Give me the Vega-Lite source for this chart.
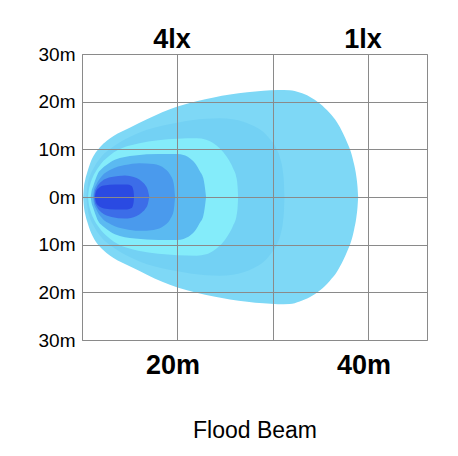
{
  "$schema": "https://vega.github.io/schema/vega-lite/v6.json",
  "width": 345,
  "height": 286,
  "autosize": "none",
  "padding": {"left": 82, "top": 54, "right": 31, "bottom": 116},
  "background": "white",
  "config": {
    "font": "Liberation Sans",
    "view": {"stroke": "#8a8a8a", "strokeWidth": 1}
  },
  "datasets": {
    "A": [
      {"x": 10.12, "hi": 0, "lo": 0},
      {"x": 10.2, "hi": 2.0, "lo": -2.0},
      {"x": 10.34, "hi": 3.6, "lo": -3.6},
      {"x": 10.55, "hi": 5.2, "lo": -5.2},
      {"x": 10.86, "hi": 7.1, "lo": -7.1},
      {"x": 11.3, "hi": 8.9, "lo": -8.9},
      {"x": 11.9, "hi": 10.5, "lo": -10.5},
      {"x": 12.6, "hi": 11.8, "lo": -11.8},
      {"x": 13.3, "hi": 12.8, "lo": -12.8},
      {"x": 15.05, "hi": 14.6, "lo": -14.6},
      {"x": 16.8, "hi": 16.3, "lo": -16.3},
      {"x": 18.4, "hi": 17.8, "lo": -17.8},
      {"x": 20.0, "hi": 19.0, "lo": -19.0},
      {"x": 22.0, "hi": 20.1, "lo": -20.1},
      {"x": 23.8, "hi": 20.9, "lo": -20.9},
      {"x": 25.5, "hi": 21.5, "lo": -21.5},
      {"x": 27.3, "hi": 21.95, "lo": -21.95},
      {"x": 29.0, "hi": 22.3, "lo": -22.3},
      {"x": 30.5, "hi": 22.45, "lo": -22.5},
      {"x": 31.75, "hi": 22.4, "lo": -22.45},
      {"x": 32.8, "hi": 21.9, "lo": -21.9},
      {"x": 33.84, "hi": 21.05, "lo": -21.05},
      {"x": 34.9, "hi": 19.6, "lo": -19.6},
      {"x": 35.94, "hi": 17.6, "lo": -17.6},
      {"x": 36.7, "hi": 15.7, "lo": -15.7},
      {"x": 37.33, "hi": 13.4, "lo": -13.4},
      {"x": 37.8, "hi": 11.3, "lo": -11.3},
      {"x": 38.2, "hi": 9.2, "lo": -9.2},
      {"x": 38.5, "hi": 6.8, "lo": -6.8},
      {"x": 38.73, "hi": 4.3, "lo": -4.3},
      {"x": 38.85, "hi": 2.2, "lo": -2.2},
      {"x": 38.92, "hi": 0, "lo": 0}
    ],
    "B": [
      {"x": 10.45, "hi": 0, "lo": 0},
      {"x": 10.6, "hi": 2.5, "lo": -2.5},
      {"x": 10.85, "hi": 4.5, "lo": -4.5},
      {"x": 11.2, "hi": 6.0, "lo": -6.0},
      {"x": 12.0, "hi": 8.4, "lo": -8.4},
      {"x": 13.3, "hi": 10.6, "lo": -10.6},
      {"x": 15.0, "hi": 12.6, "lo": -12.6},
      {"x": 16.8, "hi": 14.1, "lo": -14.1},
      {"x": 18.5, "hi": 15.0, "lo": -15.0},
      {"x": 20.0, "hi": 15.6, "lo": -15.6},
      {"x": 21.5, "hi": 16.1, "lo": -16.1},
      {"x": 23.0, "hi": 16.4, "lo": -16.4},
      {"x": 24.4, "hi": 16.5, "lo": -16.5},
      {"x": 25.8, "hi": 16.3, "lo": -16.3},
      {"x": 26.9, "hi": 15.8, "lo": -15.8},
      {"x": 28.0, "hi": 14.9, "lo": -14.9},
      {"x": 28.96, "hi": 13.7, "lo": -13.7},
      {"x": 29.7, "hi": 12.1, "lo": -12.1},
      {"x": 30.35, "hi": 10.2, "lo": -10.2},
      {"x": 30.8, "hi": 7.8, "lo": -7.8},
      {"x": 31.04, "hi": 5.3, "lo": -5.3},
      {"x": 31.15, "hi": 2.8, "lo": -2.8},
      {"x": 31.2, "hi": 0, "lo": 0}
    ],
    "C": [
      {"x": 10.63, "hi": 0, "lo": 0},
      {"x": 10.72, "hi": 1.5, "lo": -1.5},
      {"x": 10.85, "hi": 2.6, "lo": -2.6},
      {"x": 11.16, "hi": 4.3, "lo": -4.3},
      {"x": 11.6, "hi": 5.9, "lo": -5.9},
      {"x": 12.04, "hi": 7.1, "lo": -7.1},
      {"x": 12.9, "hi": 8.7, "lo": -8.7},
      {"x": 13.79, "hi": 9.9, "lo": -9.9},
      {"x": 14.8, "hi": 10.7, "lo": -10.7},
      {"x": 15.9, "hi": 11.25, "lo": -11.25},
      {"x": 18.0, "hi": 11.9, "lo": -11.9},
      {"x": 20.0, "hi": 12.2, "lo": -12.2},
      {"x": 22.0, "hi": 12.3, "lo": -12.3},
      {"x": 23.0, "hi": 12.0, "lo": -12.0},
      {"x": 23.8, "hi": 11.2, "lo": -11.2},
      {"x": 24.44, "hi": 10.2, "lo": -10.2},
      {"x": 25.14, "hi": 8.5, "lo": -8.5},
      {"x": 25.83, "hi": 6.0, "lo": -6.0},
      {"x": 26.18, "hi": 4.0, "lo": -4.0},
      {"x": 26.3, "hi": 2.0, "lo": -2.0},
      {"x": 26.35, "hi": 0, "lo": 0}
    ],
    "D": [
      {"x": 10.91, "hi": 0, "lo": 0},
      {"x": 11.0, "hi": 1.2, "lo": -1.2},
      {"x": 11.16, "hi": 2.2, "lo": -2.2},
      {"x": 11.4, "hi": 3.6, "lo": -3.6},
      {"x": 11.68, "hi": 5.0, "lo": -5.0},
      {"x": 12.1, "hi": 6.0, "lo": -6.0},
      {"x": 12.56, "hi": 6.7, "lo": -6.7},
      {"x": 13.44, "hi": 7.8, "lo": -7.8},
      {"x": 15.54, "hi": 8.7, "lo": -8.7},
      {"x": 18.0, "hi": 9.0, "lo": -9.0},
      {"x": 20.0, "hi": 9.0, "lo": -9.0},
      {"x": 20.63, "hi": 8.8, "lo": -8.8},
      {"x": 21.32, "hi": 8.1, "lo": -8.1},
      {"x": 21.84, "hi": 7.1, "lo": -7.1},
      {"x": 22.36, "hi": 5.35, "lo": -5.35},
      {"x": 22.7, "hi": 3.96, "lo": -3.96},
      {"x": 22.88, "hi": 1.9, "lo": -1.9},
      {"x": 22.99, "hi": 0, "lo": 0}
    ],
    "E": [
      {"x": 11.16, "hi": 0, "lo": 0},
      {"x": 11.25, "hi": 1.3, "lo": -1.3},
      {"x": 11.5, "hi": 2.6, "lo": -2.6},
      {"x": 12.04, "hi": 4.3, "lo": -4.3},
      {"x": 13.09, "hi": 5.8, "lo": -5.8},
      {"x": 14.49, "hi": 6.7, "lo": -6.7},
      {"x": 16.0, "hi": 7.1, "lo": -7.1},
      {"x": 17.5, "hi": 6.9, "lo": -6.9},
      {"x": 18.7, "hi": 5.9, "lo": -5.9},
      {"x": 19.25, "hi": 4.6, "lo": -4.6},
      {"x": 19.6, "hi": 2.9, "lo": -2.9},
      {"x": 19.75, "hi": 0, "lo": 0}
    ],
    "F": [
      {"x": 11.26, "hi": 0, "lo": 0},
      {"x": 11.33, "hi": 1.0, "lo": -1.0},
      {"x": 11.51, "hi": 1.9, "lo": -1.9},
      {"x": 12.04, "hi": 3.26, "lo": -3.26},
      {"x": 13.09, "hi": 4.17, "lo": -4.17},
      {"x": 14.49, "hi": 4.5, "lo": -4.5},
      {"x": 15.72, "hi": 3.96, "lo": -3.96},
      {"x": 16.3, "hi": 3.2, "lo": -3.2},
      {"x": 16.6, "hi": 2.57, "lo": -2.57},
      {"x": 16.9, "hi": 1.4, "lo": -1.4},
      {"x": 17.05, "hi": 0, "lo": 0}
    ],
    "G": [
      {"x": 11.35, "hi": 0, "lo": 0},
      {"x": 11.45, "hi": 1.0, "lo": -1.0},
      {"x": 11.7, "hi": 1.8, "lo": -1.8},
      {"x": 12.3, "hi": 2.4, "lo": -2.4},
      {"x": 13.5, "hi": 2.6, "lo": -2.6},
      {"x": 14.7, "hi": 2.6, "lo": -2.6},
      {"x": 15.2, "hi": 2.3, "lo": -2.3},
      {"x": 15.4, "hi": 1.2, "lo": -1.2},
      {"x": 15.45, "hi": 0, "lo": 0}
    ]
  },
  "layer": [
    {
      "data": {"name": "A"},
      "mark": {"type": "area", "interpolate": "monotone", "color": "#7ed8f6", "opacity": 1},
      "encoding": {
        "x": {
          "field": "x", "type": "quantitative",
          "scale": {"domain": [10, 46.13], "nice": false, "zero": false},
          "axis": {
            "orient": "bottom", "values": [10, 20, 30, 40],
            "labelExpr": "datum.value == 20 || datum.value == 40 ? datum.value + 'm' : ''",
            "grid": true, "gridColor": "#8a8a8a", "gridWidth": 1, "gridOpacity": 1,
            "domain": false, "ticks": false,
            "labelFontSize": 27, "labelFontWeight": "bold", "labelColor": "#000",
            "labelPadding": 12, "labelOffset": -5, "labelFlush": false, "labelOverlap": false,
            "title": "Flood Beam", "titleFontSize": 23, "titleFontWeight": "normal",
            "titleColor": "#000", "titlePadding": 41, "zindex": 1
          }
        },
        "y": {
          "field": "hi", "type": "quantitative", "stack": null,
          "scale": {"domain": [-30, 30], "nice": false, "zero": false},
          "axis": {
            "values": [-30, -20, -10, 0, 10, 20, 30],
            "labelExpr": "abs(datum.value) + 'm'",
            "grid": true, "gridColor": "#8a8a8a", "gridWidth": 1, "gridOpacity": 1,
            "domain": false, "ticks": false,
            "labelFontSize": 19, "labelColor": "#000", "labelPadding": 7,
            "labelFlush": false, "labelOverlap": false, "title": null, "zindex": 1
          }
        },
        "y2": {"field": "lo"}
      }
    },
    {
      "data": {"name": "B"},
      "mark": {"type": "area", "interpolate": "monotone", "color": "#73d1f4", "opacity": 1},
      "encoding": {
        "x": {"field": "x", "type": "quantitative", "axis": null},
        "y": {"field": "hi", "type": "quantitative", "stack": null, "axis": null},
        "y2": {"field": "lo"}
      }
    },
    {
      "data": {"name": "C"},
      "mark": {"type": "area", "interpolate": "monotone", "color": "#84ecfa", "opacity": 1},
      "encoding": {
        "x": {"field": "x", "type": "quantitative", "axis": null},
        "y": {"field": "hi", "type": "quantitative", "stack": null, "axis": null},
        "y2": {"field": "lo"}
      }
    },
    {
      "data": {"name": "D"},
      "mark": {"type": "area", "interpolate": "monotone", "color": "#5bbaf1", "opacity": 1},
      "encoding": {
        "x": {"field": "x", "type": "quantitative", "axis": null},
        "y": {"field": "hi", "type": "quantitative", "stack": null, "axis": null},
        "y2": {"field": "lo"}
      }
    },
    {
      "data": {"name": "E"},
      "mark": {"type": "area", "interpolate": "monotone", "color": "#4a9aed", "opacity": 1},
      "encoding": {
        "x": {"field": "x", "type": "quantitative", "axis": null},
        "y": {"field": "hi", "type": "quantitative", "stack": null, "axis": null},
        "y2": {"field": "lo"}
      }
    },
    {
      "data": {"name": "F"},
      "mark": {"type": "area", "interpolate": "monotone", "color": "#3c6de8", "opacity": 1},
      "encoding": {
        "x": {"field": "x", "type": "quantitative", "axis": null},
        "y": {"field": "hi", "type": "quantitative", "stack": null, "axis": null},
        "y2": {"field": "lo"}
      }
    },
    {
      "data": {"name": "G"},
      "mark": {"type": "area", "interpolate": "monotone", "color": "#2a4ae2", "opacity": 1},
      "encoding": {
        "x": {
          "field": "x", "type": "quantitative",
          "axis": {
            "orient": "top", "values": [20, 40],
            "labelExpr": "datum.value == 20 ? '4lx' : '1lx'",
            "grid": false, "domain": false, "ticks": false,
            "labelFontSize": 27, "labelFontWeight": "bold", "labelColor": "#000",
            "labelPadding": 1, "labelOffset": -6, "labelFlush": false, "labelOverlap": false,
            "title": null, "zindex": 1
          }
        },
        "y": {"field": "hi", "type": "quantitative", "stack": null, "axis": null},
        "y2": {"field": "lo"}
      }
    }
  ],
  "resolve": {"axis": {"x": "independent", "y": "independent"}}
}
